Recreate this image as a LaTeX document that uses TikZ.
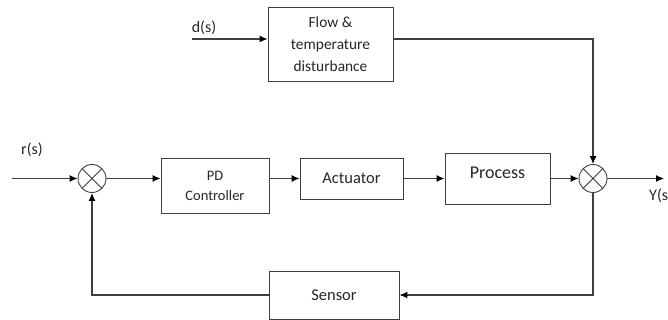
\documentclass[tikz,border=0pt]{standalone}
\usepackage{fontspec}
\setmainfont{Carlito}
\usetikzlibrary{arrows.meta}
\definecolor{linegray}{HTML}{404040}
\definecolor{inkgray}{HTML}{262626}

\begin{document}
\begin{tikzpicture}[x=1pt,y=-1pt,
  line/.style={draw=linegray, line width=1.1pt},
  arr/.style={line, -{Latex[length=8pt,width=7pt,black]}},
  blk/.style={draw=linegray, line width=0.9pt, rectangle, align=center, inner sep=0pt, text=inkgray},
  sumjn/.style={draw=linegray, line width=0.9pt, circle, minimum size=28pt, inner sep=0pt,
    path picture={\draw[linegray, line width=0.9pt]
      (path picture bounding box.north west) -- (path picture bounding box.south east)
      (path picture bounding box.south west) -- (path picture bounding box.north east);}},
  sig/.style={font=\fontsize{16}{18}\selectfont, inner sep=0pt, text=inkgray}]
\useasboundingbox (0,0) rectangle (668,320);

\node[blk, minimum width=125pt, minimum height=74pt, font=\fontsize{15.4}{22}\selectfont] (dist) at (330.5,44) {Flow \&\\temperature\\disturbance};
\node[blk, minimum width=108pt, minimum height=55pt, font=\fontsize{14.5}{20}\selectfont] (pd) at (215,185.5) {PD\\Controller};
\node[blk, minimum width=103pt, minimum height=41pt, font=\fontsize{16.5}{20}\selectfont] (act) at (351.5,178.5) {Actuator};
\node[blk, minimum width=105pt, minimum height=51pt, font=\fontsize{18}{20}\selectfont, text height=13pt, text depth=13pt] (proc) at (497.5,178.5) {Process};
\node[blk, minimum width=130pt, minimum height=48pt, font=\fontsize{16.5}{20}\selectfont] (sens) at (334,295) {Sensor};
\node[sumjn] (sum1) at (92,178.5) {};
\node[sumjn] (sum2) at (593,178.5) {};

\coordinate (rin) at (12,178.5);
\coordinate (din) at (192,39);
\coordinate (yout) at (664,178.5);
\node[sig] (rlbl) at (32,150) {r(s)};
\node[sig] (dlbl) at (204,28) {d(s)};
\node[sig, anchor=west] (ylbl) at (649,196) {Y(s)};

\draw[arr] (rin) -- (sum1.west);
\draw[arr] (sum1.east) -- (sum1.east -| pd.west);
\draw[arr] (act.west -| pd.east) -- (act.west);
\draw[arr] (act.east) -- (act.east -| proc.west);
\draw[arr] (sum2.west -| proc.east) -- (sum2.west);
\draw[arr] (sum2.east) -- (yout);
\draw[arr] (din) -- (din -| dist.west);
\draw[arr] ([yshift=5pt]dist.east) -| (sum2.north);
\draw[arr] (sum2.south) |- (sens.east);
\draw[arr] (sens.west) -| (sum1.south);
\end{tikzpicture}
\end{document}
